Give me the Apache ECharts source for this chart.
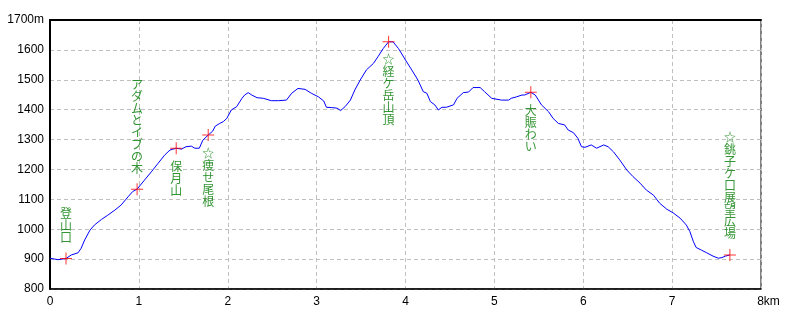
<!DOCTYPE html>
<html><head><meta charset="utf-8">
<script src="https://cdn.jsdelivr.net/npm/echarts@6/dist/echarts.min.js"></script>
<style>html,body{margin:0;padding:0;background:#fff}#c{width:800px;height:320px}</style>
</head><body><div id="c"></div>
<script>
// Elevation profile (distance km, elevation m)
const distKm = [0.00,0.09,0.18,0.24,0.315,0.35,0.39,0.45,0.50,0.58,0.65,0.73,0.80,0.88,0.93,0.98,1.065,1.14,1.215,1.29,1.35,1.42,1.48,1.53,1.59,1.63,1.68,1.72,1.78,1.83,1.86,1.91,1.95,1.99,2.04,2.10,2.16,2.19,2.23,2.27,2.33,2.40,2.49,2.57,2.66,2.72,2.79,2.87,2.94,3.02,3.08,3.11,3.17,3.23,3.27,3.32,3.38,3.43,3.49,3.56,3.64,3.69,3.75,3.81,3.86,3.92,4.00,4.07,4.14,4.20,4.24,4.28,4.33,4.37,4.41,4.46,4.54,4.58,4.65,4.71,4.76,4.84,4.89,4.97,5.08,5.16,5.19,5.25,5.31,5.34,5.41,5.46,5.53,5.61,5.66,5.72,5.79,5.83,5.89,5.94,5.98,6.02,6.09,6.15,6.23,6.28,6.34,6.41,6.49,6.56,6.64,6.71,6.79,6.86,6.94,7.01,7.09,7.16,7.20,7.24,7.27,7.33,7.39,7.46,7.52,7.56,7.60,7.65];
const elevM = [903,898,902,914,921,936,964,997,1014,1033,1047,1064,1081,1109,1126,1134,1165,1192,1220,1248,1265,1271,1268,1276,1278,1271,1271,1298,1315,1328,1345,1354,1360,1371,1399,1410,1438,1449,1457,1449,1440,1438,1430,1430,1432,1455,1471,1468,1455,1443,1429,1408,1407,1405,1397,1410,1432,1466,1499,1533,1555,1577,1605,1627,1627,1605,1566,1533,1499,1460,1455,1427,1416,1399,1408,1408,1416,1438,1457,1459,1474,1474,1460,1438,1432,1432,1438,1443,1449,1449,1458,1449,1416,1393,1371,1354,1349,1332,1323,1304,1276,1274,1282,1271,1282,1276,1259,1232,1198,1176,1154,1131,1114,1087,1067,1055,1037,1014,992,958,939,930,921,910,903,905,910,914];

// Waypoints
const pointNames = ['登山口','アダムとイブの木','保月山','☆痩せ尾根','☆経ケ岳山頂','大賑わい','☆銚子ケ口展望広場'];
const pointKm = [0.18,0.98,1.42,1.78,3.81,5.41,7.65];
const pointElev = [902,1134,1271,1315,1627,1458,914];
const labelSide = ['top','top','bottom','bottom','bottom','bottom','top'];

const xTicks = [0,1,2,3,4,5,6,7,8];
const yTicks = [800,900,1000,1100,1200,1300,1400,1500,1600,1700];

const chart = echarts.init(document.getElementById('c'), null, {renderer:'canvas'});
const lineData = distKm.map((d,i)=>[d, elevM[i]]);
const ptData = pointNames.map((n,i)=>({
  name:n, value:[pointKm[i], pointElev[i]],
  label:{position:labelSide[i], distance: labelSide[i]==='top' ? 9 : 6}
}));
const xMin = xTicks[0], xMax = xTicks[xTicks.length-1];
chart.setOption({
  animation:false,
  backgroundColor:'#fff',
  grid:{left:50,right:39,top:20,bottom:31,show:true,borderColor:'#000',borderWidth:1,backgroundColor:'transparent'},
  xAxis:[{type:'value',min:xMin,max:xMax,interval:1,
    axisLine:{lineStyle:{color:'#000',width:1.5}},axisTick:{show:false},
    splitLine:{show:true,lineStyle:{color:'#c0c0c0',type:[4,3],width:1}},
    axisLabel:{fontFamily:'Liberation Sans',fontSize:12,color:'#000',margin:7,
      formatter:v=> v===xMax ? '{k|'+v+'km}' : String(v),
      rich:{k:{fontFamily:'Liberation Sans',fontSize:12,color:'#000',padding:[0,0,0,15]}}}},
    {type:'value',position:'top',min:xMin,max:xMax,interval:1,
    axisLine:{show:true,lineStyle:{color:'#000',width:2}},axisTick:{show:false},
    axisLabel:{show:false},splitLine:{show:false}}],
  yAxis:{type:'value',min:yTicks[0],max:yTicks[yTicks.length-1],interval:100,
    axisLine:{show:true,lineStyle:{color:'#000',width:2}},axisTick:{show:false},
    splitLine:{show:true,lineStyle:{color:'#c0c0c0',type:[4,3],width:1}},
    axisLabel:{fontFamily:'Liberation Sans',fontSize:12,color:'#000',margin:6,
      formatter:v=> v===yTicks[yTicks.length-1] ? v+'m' : String(v)}},
  series:[
    {type:'line',data:lineData,symbol:'none',lineStyle:{color:'#0000ff',width:1},z:2},
    {type:'scatter',data:ptData,symbol:'path://M0,5.5h12v1h-12z M5.5,0h1v12h-1z',symbolSize:12,
      itemStyle:{color:'#ff0000'},z:3,
      label:{show:true,color:'#007a00',fontFamily:'Noto Sans CJK JP',fontSize:12,lineHeight:12,
        formatter:p=>p.name.split('').join('\n')}}
  ]
});
</script></body></html>
